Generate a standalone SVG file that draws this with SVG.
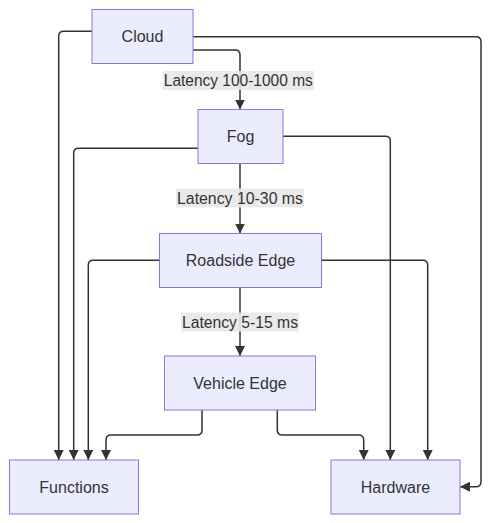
<svg xmlns="http://www.w3.org/2000/svg" width="490" height="523" viewBox="0 0 490 523">
<style>
.node rect{fill:#ECECFF;stroke:#9370DB;stroke-width:1}
text{font-family:"Trebuchet MS","Liberation Sans",Arial,sans-serif;font-size:16px;fill:#333;text-anchor:middle}
.edge{fill:none;stroke:#333;stroke-width:1.5}
.lbl rect{fill:#e8e8e8;opacity:0.9}
</style>
<defs>
<marker id="ah" viewBox="0 0 10 10" refX="10" refY="5" markerWidth="10" markerHeight="10" markerUnits="userSpaceOnUse" orient="auto">
<path d="M0,0 L10,5 L0,10 z" fill="#333"/>
</marker>
</defs>
<g id="connectors">
<path class="edge" marker-end="url(#ah)" d="M92,31.3 L63.7,31.3 Q58.7,31.3 58.7,36.3 L58.7,460"/>
<path class="edge" marker-end="url(#ah)" d="M193,36.7 L476,36.7 Q481,36.7 481,41.7 L481,481.7 Q481,486.7 476,486.7 L460,486.7"/>
<path class="edge" marker-end="url(#ah)" d="M193,50 L235,50 Q240,50 240,55 L240,109.5"/>
<path class="edge" marker-end="url(#ah)" d="M198,148.3 L78.7,148.3 Q73.7,148.3 73.7,153.3 L73.7,460"/>
<path class="edge" marker-end="url(#ah)" d="M283,136.3 L385.3,136.3 Q390.3,136.3 390.3,141.3 L390.3,460"/>
<path class="edge" marker-end="url(#ah)" d="M240,163.5 L240,233.5"/>
<path class="edge" marker-end="url(#ah)" d="M159.5,260.3 L93.3,260.3 Q88.3,260.3 88.3,265.3 L88.3,460"/>
<path class="edge" marker-end="url(#ah)" d="M321.5,260.3 L422.7,260.3 Q427.7,260.3 427.7,265.3 L427.7,460"/>
<path class="edge" marker-end="url(#ah)" d="M240,287.5 L240,356"/>
<path class="edge" marker-end="url(#ah)" d="M202,410 L202,430 Q202,435 197,435 L111,435 Q106,435 106,440 L106,460"/>
<path class="edge" marker-end="url(#ah)" d="M277.3,410 L277.3,430 Q277.3,435 282.3,435 L358.7,435 Q363.7,435 363.7,440 L363.7,460"/>
<g class="lbl"><rect x="162.7" y="71" width="151.3" height="19"/><text x="238.3" y="86" textLength="149" lengthAdjust="spacingAndGlyphs">Latency 100-1000 ms</text></g>
<g class="lbl"><rect x="176" y="188.5" width="128" height="19"/><text x="240" y="203.5" textLength="126" lengthAdjust="spacingAndGlyphs">Latency 10-30 ms</text></g>
<g class="lbl"><rect x="181" y="312.5" width="118" height="19"/><text x="240" y="327.5" textLength="116" lengthAdjust="spacingAndGlyphs">Latency 5-15 ms</text></g>
</g>
<g id="cloud" class="node"><rect x="92" y="9.5" width="101" height="54"/><text x="142.5" y="42">Cloud</text></g>
<g id="fog" class="node"><rect x="198" y="109.5" width="85" height="54"/><text x="240.5" y="142">Fog</text></g>
<g id="roadside" class="node"><rect x="159.5" y="233.5" width="162" height="54"/><text x="240.5" y="266">Roadside Edge</text></g>
<g id="vehicle" class="node"><rect x="164.5" y="356" width="151" height="54"/><text x="240" y="388.5">Vehicle Edge</text></g>
<g id="functions" class="node"><rect x="9.5" y="460" width="129" height="54"/><text x="74" y="492.5">Functions</text></g>
<g id="hardware" class="node"><rect x="331" y="460" width="129" height="54"/><text x="395.5" y="492.5">Hardware</text></g>
</svg>
